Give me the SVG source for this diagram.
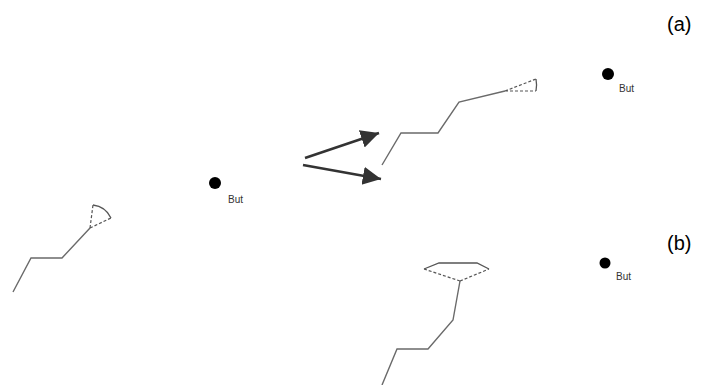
<svg xmlns="http://www.w3.org/2000/svg" width="711" height="385" viewBox="0 0 711 385">
<defs>
<style>
.path{fill:none;stroke:#6a6a6a;stroke-width:1.4;stroke-linejoin:miter}
.cone{fill:none;stroke:#555;stroke-width:1.2;stroke-dasharray:3,2}
.arc{fill:none;stroke:#555;stroke-width:1.3}
.goal{fill:#000}
.lbl{font-family:"Liberation Sans",Arial,sans-serif;font-size:10px;fill:#333}
.tag{font-family:"Liberation Sans",Arial,sans-serif;font-size:20px;fill:#000}
.arrow{stroke:#333;stroke-width:2.6;fill:none}
</style>
<marker id="ah" markerWidth="8" markerHeight="8" refX="7" refY="3.5" orient="auto" markerUnits="strokeWidth">
<path d="M0,0 L7,3.5 L0,7 Z" fill="#333"/>
</marker>
</defs>
<rect width="711" height="385" fill="#fff"/>
<g id="initial">
<polyline class="path" points="13,292 31,258 62,258 90,228"/>
<path class="cone" d="M90,228 L93,205 M90,228 L111,218"/>
<path class="arc" d="M93,205 A23,23 0 0 1 111,218"/>
</g>
<g id="goal-initial">
<circle class="goal" cx="215" cy="183" r="6"/>
<text class="lbl" x="228" y="203">But</text>
</g>
<g id="case-a">
<polyline class="path" points="382,165 401,133 438,133 459,102 505,91"/>
<path class="cone" d="M505,91 L536,79 M505,91 L536,91"/>
<path class="arc" d="M536,79 A32,32 0 0 1 536,91"/>
</g>
<g id="goal-a">
<circle class="goal" cx="608" cy="74" r="6"/>
<text class="lbl" x="619" y="92">But</text>
</g>
<g id="case-b">
<polyline class="path" points="382,385 397,349 428,349 453,320 460,281"/>
<path class="cone" d="M460,281 L424,269 M460,281 L489,269"/>
<polyline class="arc" points="424,269 439,263 477,263 489,269"/>
</g>
<g id="goal-b">
<circle class="goal" cx="605" cy="263" r="5.5"/>
<text class="lbl" x="616" y="280">But</text>
</g>
<g id="label-a"><text class="tag" x="667" y="31">(a)</text></g>
<g id="label-b"><text class="tag" x="667" y="250">(b)</text></g>
<g id="connectors">
<line class="arrow" x1="305" y1="158" x2="379" y2="133" marker-end="url(#ah)"/>
<line class="arrow" x1="303" y1="165" x2="381" y2="179" marker-end="url(#ah)"/>
</g>
</svg>
